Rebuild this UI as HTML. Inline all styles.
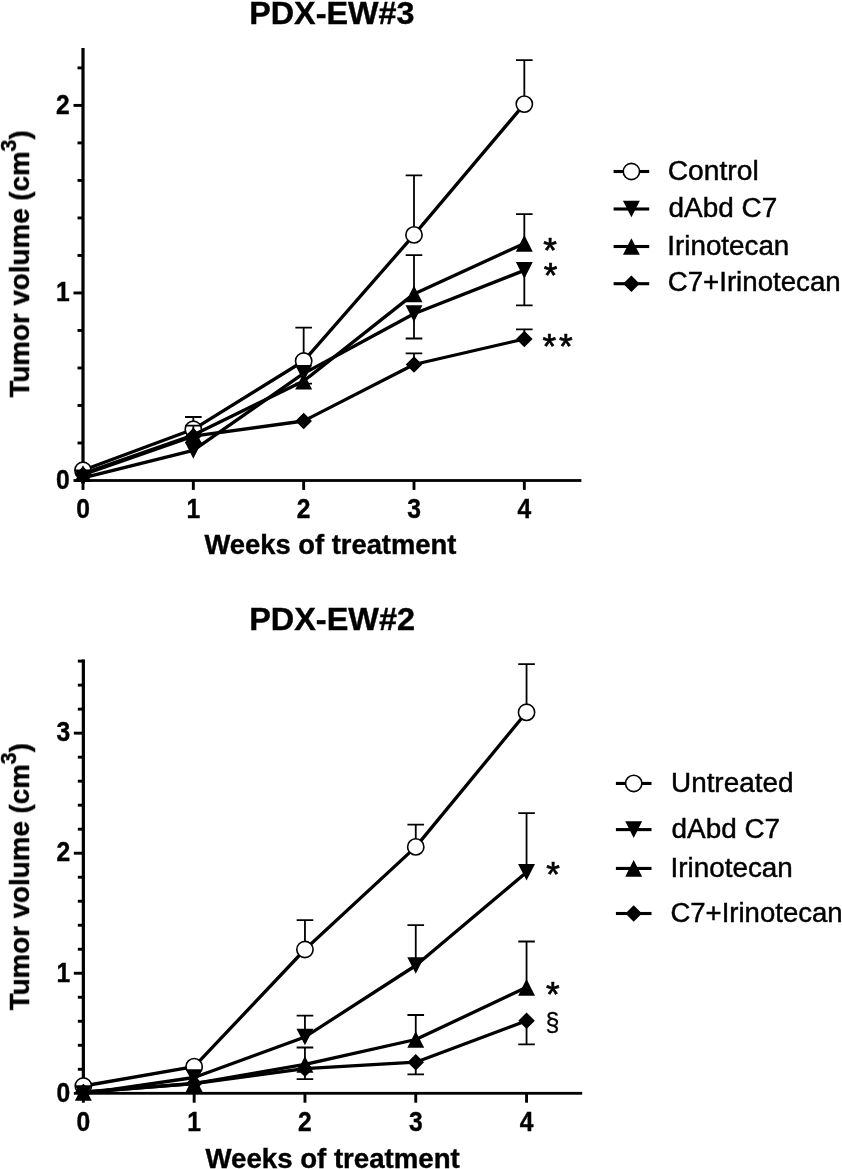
<!DOCTYPE html><html><head><meta charset="utf-8"><title>PDX tumor volume</title><style>html,body{margin:0;padding:0;background:#fff}svg{display:block}text{font-family:"Liberation Sans", Arial, Helvetica, sans-serif;fill:#000}</style></head><body>
<svg width="842" height="1169" viewBox="0 0 842 1169">
<rect width="842" height="1169" fill="#fff"/>
<defs><filter id="soft" x="0" y="0" width="842" height="1169" filterUnits="userSpaceOnUse" color-interpolation-filters="sRGB"><feOffset dx="0" dy="0"/></filter></defs>
<g filter="url(#soft)">
<g>
<rect x="81.40" y="48.00" width="3.2" height="433.90" fill="#000"/>
<rect x="73.50" y="479.10" width="507.90" height="2.8" fill="#000"/>
<text x="62.90" y="488.75" font-size="27.5" font-weight="bold" stroke="#000" stroke-width="0.4" text-anchor="middle" textLength="13.70" lengthAdjust="spacingAndGlyphs">0</text>
<rect x="77.50" y="441.54" width="5.5" height="2.9" fill="#000"/>
<rect x="77.50" y="404.03" width="5.5" height="2.9" fill="#000"/>
<rect x="77.50" y="366.52" width="5.5" height="2.9" fill="#000"/>
<rect x="77.50" y="329.01" width="5.5" height="2.9" fill="#000"/>
<rect x="73.50" y="291.50" width="9.5" height="2.9" fill="#000"/>
<text x="62.90" y="301.20" font-size="27.5" font-weight="bold" stroke="#000" stroke-width="0.4" text-anchor="middle" textLength="13.70" lengthAdjust="spacingAndGlyphs">1</text>
<rect x="77.50" y="253.99" width="5.5" height="2.9" fill="#000"/>
<rect x="77.50" y="216.48" width="5.5" height="2.9" fill="#000"/>
<rect x="77.50" y="178.97" width="5.5" height="2.9" fill="#000"/>
<rect x="77.50" y="141.46" width="5.5" height="2.9" fill="#000"/>
<rect x="73.50" y="103.95" width="9.5" height="2.9" fill="#000"/>
<text x="62.90" y="113.65" font-size="27.5" font-weight="bold" stroke="#000" stroke-width="0.4" text-anchor="middle" textLength="13.70" lengthAdjust="spacingAndGlyphs">2</text>
<rect x="77.50" y="66.44" width="5.5" height="2.9" fill="#000"/>
<rect x="81.55" y="480.50" width="2.9" height="9.4" fill="#000"/>
<text x="83.00" y="517.70" font-size="27.5" font-weight="bold" stroke="#000" stroke-width="0.4" text-anchor="middle" textLength="13.70" lengthAdjust="spacingAndGlyphs">0</text>
<rect x="191.88" y="480.50" width="2.9" height="9.4" fill="#000"/>
<text x="193.33" y="517.70" font-size="27.5" font-weight="bold" stroke="#000" stroke-width="0.4" text-anchor="middle" textLength="13.70" lengthAdjust="spacingAndGlyphs">1</text>
<rect x="302.21" y="480.50" width="2.9" height="9.4" fill="#000"/>
<text x="303.66" y="517.70" font-size="27.5" font-weight="bold" stroke="#000" stroke-width="0.4" text-anchor="middle" textLength="13.70" lengthAdjust="spacingAndGlyphs">2</text>
<rect x="412.54" y="480.50" width="2.9" height="9.4" fill="#000"/>
<text x="413.99" y="517.70" font-size="27.5" font-weight="bold" stroke="#000" stroke-width="0.4" text-anchor="middle" textLength="13.70" lengthAdjust="spacingAndGlyphs">3</text>
<rect x="522.87" y="480.50" width="2.9" height="9.4" fill="#000"/>
<text x="524.32" y="517.70" font-size="27.5" font-weight="bold" stroke="#000" stroke-width="0.4" text-anchor="middle" textLength="13.70" lengthAdjust="spacingAndGlyphs">4</text>
<polyline points="83.00,470.30 193.33,429.30 303.66,361.00 413.99,234.90 524.32,104.10" fill="none" stroke="#000" stroke-width="3.3" stroke-linejoin="round"/>
<path d="M193.33 429.30V417.00M185.03 417.00H201.63M303.66 361.00V327.70M295.36 327.70H311.96M413.99 234.90V175.30M405.69 175.30H422.29M524.32 104.10V60.10M516.02 60.10H532.62" stroke="#000" stroke-width="1.8" fill="none"/>
<ellipse cx="83.00" cy="470.30" rx="8.15" ry="8.15" fill="#fff" stroke="#000" stroke-width="1.6"/>
<ellipse cx="193.33" cy="429.30" rx="8.15" ry="8.15" fill="#fff" stroke="#000" stroke-width="1.6"/>
<ellipse cx="303.66" cy="361.00" rx="8.15" ry="8.15" fill="#fff" stroke="#000" stroke-width="1.6"/>
<ellipse cx="413.99" cy="234.90" rx="8.15" ry="8.15" fill="#fff" stroke="#000" stroke-width="1.6"/>
<ellipse cx="524.32" cy="104.10" rx="8.15" ry="8.15" fill="#fff" stroke="#000" stroke-width="1.6"/>
<polyline points="83.00,477.80 193.33,450.40 303.66,373.45 413.99,313.70 524.32,270.40" fill="none" stroke="#000" stroke-width="3.3" stroke-linejoin="round"/>
<path d="M303.66 373.45V383.60M295.36 383.60H311.96M413.99 313.70V338.50M405.69 338.50H422.29M524.32 270.40V305.30M516.02 305.30H532.62" stroke="#000" stroke-width="1.8" fill="none"/>
<path d="M83.00 486.15L91.45 469.45H74.55Z" fill="#000"/>
<path d="M193.33 458.75L201.78 442.05H184.88Z" fill="#000"/>
<path d="M303.66 381.80L312.11 365.10H295.21Z" fill="#000"/>
<path d="M413.99 322.05L422.44 305.35H405.54Z" fill="#000"/>
<path d="M524.32 278.75L532.77 262.05H515.87Z" fill="#000"/>
<polyline points="83.00,473.60 193.33,435.00 303.66,381.05 413.99,293.90 524.32,243.40" fill="none" stroke="#000" stroke-width="3.3" stroke-linejoin="round"/>
<path d="M193.33 435.00V425.70M185.03 425.70H201.63M413.99 293.90V255.10M405.69 255.10H422.29M524.32 243.40V214.20M516.02 214.20H532.62" stroke="#000" stroke-width="1.8" fill="none"/>
<path d="M83.00 465.25L91.45 481.95H74.55Z" fill="#000"/>
<path d="M193.33 426.65L201.78 443.35H184.88Z" fill="#000"/>
<path d="M303.66 372.70L312.11 389.40H295.21Z" fill="#000"/>
<path d="M413.99 285.55L422.44 302.25H405.54Z" fill="#000"/>
<path d="M524.32 235.05L532.77 251.75H515.87Z" fill="#000"/>
<polyline points="83.00,474.80 193.33,436.20 303.66,421.00 413.99,364.50 524.32,339.00" fill="none" stroke="#000" stroke-width="3.3" stroke-linejoin="round"/>
<path d="M413.99 364.50V353.30M405.69 353.30H422.29M524.32 339.00V329.30M516.02 329.30H532.62" stroke="#000" stroke-width="1.8" fill="none"/>
<path d="M83.00 466.55L91.25 474.80L83.00 483.05L74.75 474.80Z" fill="#000"/>
<path d="M193.33 427.95L201.58 436.20L193.33 444.45L185.08 436.20Z" fill="#000"/>
<path d="M303.66 412.75L311.91 421.00L303.66 429.25L295.41 421.00Z" fill="#000"/>
<path d="M413.99 356.25L422.24 364.50L413.99 372.75L405.74 364.50Z" fill="#000"/>
<path d="M524.32 330.75L532.57 339.00L524.32 347.25L516.07 339.00Z" fill="#000"/>
<text x="204.40" y="554.30" font-size="28" font-weight="bold" stroke="#000" stroke-width="0.4" textLength="252.00" lengthAdjust="spacingAndGlyphs">Weeks of treatment</text>
<g transform="translate(29.00 397.50) rotate(-90)">
<text x="0.00" y="0.00" font-size="28" font-weight="bold" stroke="#000" stroke-width="0.4" textLength="267.20" lengthAdjust="spacingAndGlyphs">Tumor volume (cm<tspan font-size="21.5" dy="-12.6">3</tspan><tspan dy="12.6">)</tspan></text>
</g>
<text x="249.20" y="23.80" font-size="32" font-weight="bold" stroke="#000" stroke-width="0.4" textLength="165.20" lengthAdjust="spacingAndGlyphs">PDX-EW#3</text>
<rect x="613.60" y="169.95" width="35.6" height="3.1" fill="#000"/>
<ellipse cx="631.40" cy="171.50" rx="8.15" ry="8.15" fill="#fff" stroke="#000" stroke-width="1.6"/>
<text x="667.70" y="179.60" font-size="26.8" textLength="91.00" lengthAdjust="spacingAndGlyphs" stroke="#000" stroke-width="0.45">Control</text>
<rect x="613.60" y="207.45" width="35.6" height="3.1" fill="#000"/>
<path d="M631.40 217.35L639.85 200.65H622.95Z" fill="#000"/>
<text x="668.50" y="217.20" font-size="26.8" textLength="108.70" lengthAdjust="spacingAndGlyphs" stroke="#000" stroke-width="0.45">dAbd C7</text>
<rect x="613.60" y="244.95" width="35.6" height="3.1" fill="#000"/>
<path d="M631.40 238.15L639.85 254.85H622.95Z" fill="#000"/>
<text x="667.30" y="254.60" font-size="26.8" textLength="122.00" lengthAdjust="spacingAndGlyphs" stroke="#000" stroke-width="0.45">Irinotecan</text>
<rect x="613.60" y="282.15" width="35.6" height="3.1" fill="#000"/>
<path d="M631.40 275.45L639.65 283.70L631.40 291.95L623.15 283.70Z" fill="#000"/>
<text x="667.70" y="290.70" font-size="26.8" textLength="173.00" lengthAdjust="spacingAndGlyphs" stroke="#000" stroke-width="0.45">C7+Irinotecan</text>
<text x="543.30" y="262.20" font-size="35" stroke="#000" stroke-width="0.7" stroke-linejoin="round">*</text>
<text x="543.80" y="287.40" font-size="35" stroke="#000" stroke-width="0.7" stroke-linejoin="round">*</text>
<text x="542.60" y="357.80" font-size="35" stroke="#000" stroke-width="0.7" stroke-linejoin="round">*</text>
<text x="559.00" y="357.80" font-size="35" stroke="#000" stroke-width="0.7" stroke-linejoin="round">*</text>
</g>
<g>
<rect x="81.75" y="659.40" width="3.2" height="435.30" fill="#000"/>
<rect x="73.85" y="1091.90" width="508.35" height="2.8" fill="#000"/>
<text x="63.25" y="1101.55" font-size="27.5" font-weight="bold" stroke="#000" stroke-width="0.4" text-anchor="middle" textLength="13.70" lengthAdjust="spacingAndGlyphs">0</text>
<rect x="77.85" y="1067.84" width="5.5" height="2.9" fill="#000"/>
<rect x="77.85" y="1043.83" width="5.5" height="2.9" fill="#000"/>
<rect x="77.85" y="1019.82" width="5.5" height="2.9" fill="#000"/>
<rect x="77.85" y="995.81" width="5.5" height="2.9" fill="#000"/>
<rect x="73.85" y="971.80" width="9.5" height="2.9" fill="#000"/>
<text x="63.25" y="981.50" font-size="27.5" font-weight="bold" stroke="#000" stroke-width="0.4" text-anchor="middle" textLength="13.70" lengthAdjust="spacingAndGlyphs">1</text>
<rect x="77.85" y="947.79" width="5.5" height="2.9" fill="#000"/>
<rect x="77.85" y="923.78" width="5.5" height="2.9" fill="#000"/>
<rect x="77.85" y="899.77" width="5.5" height="2.9" fill="#000"/>
<rect x="77.85" y="875.76" width="5.5" height="2.9" fill="#000"/>
<rect x="73.85" y="851.75" width="9.5" height="2.9" fill="#000"/>
<text x="63.25" y="861.45" font-size="27.5" font-weight="bold" stroke="#000" stroke-width="0.4" text-anchor="middle" textLength="13.70" lengthAdjust="spacingAndGlyphs">2</text>
<rect x="77.85" y="827.74" width="5.5" height="2.9" fill="#000"/>
<rect x="77.85" y="803.73" width="5.5" height="2.9" fill="#000"/>
<rect x="77.85" y="779.72" width="5.5" height="2.9" fill="#000"/>
<rect x="77.85" y="755.71" width="5.5" height="2.9" fill="#000"/>
<rect x="73.85" y="731.70" width="9.5" height="2.9" fill="#000"/>
<text x="63.25" y="741.40" font-size="27.5" font-weight="bold" stroke="#000" stroke-width="0.4" text-anchor="middle" textLength="13.70" lengthAdjust="spacingAndGlyphs">3</text>
<rect x="77.85" y="707.69" width="5.5" height="2.9" fill="#000"/>
<rect x="77.85" y="683.68" width="5.5" height="2.9" fill="#000"/>
<rect x="77.85" y="659.67" width="5.5" height="2.9" fill="#000"/>
<rect x="81.90" y="1093.30" width="2.9" height="9.4" fill="#000"/>
<text x="83.35" y="1130.50" font-size="27.5" font-weight="bold" stroke="#000" stroke-width="0.4" text-anchor="middle" textLength="13.70" lengthAdjust="spacingAndGlyphs">0</text>
<rect x="192.70" y="1093.30" width="2.9" height="9.4" fill="#000"/>
<text x="194.15" y="1130.50" font-size="27.5" font-weight="bold" stroke="#000" stroke-width="0.4" text-anchor="middle" textLength="13.70" lengthAdjust="spacingAndGlyphs">1</text>
<rect x="303.50" y="1093.30" width="2.9" height="9.4" fill="#000"/>
<text x="304.95" y="1130.50" font-size="27.5" font-weight="bold" stroke="#000" stroke-width="0.4" text-anchor="middle" textLength="13.70" lengthAdjust="spacingAndGlyphs">2</text>
<rect x="414.30" y="1093.30" width="2.9" height="9.4" fill="#000"/>
<text x="415.75" y="1130.50" font-size="27.5" font-weight="bold" stroke="#000" stroke-width="0.4" text-anchor="middle" textLength="13.70" lengthAdjust="spacingAndGlyphs">3</text>
<rect x="525.10" y="1093.30" width="2.9" height="9.4" fill="#000"/>
<text x="526.55" y="1130.50" font-size="27.5" font-weight="bold" stroke="#000" stroke-width="0.4" text-anchor="middle" textLength="13.70" lengthAdjust="spacingAndGlyphs">4</text>
<polyline points="83.35,1086.00 194.15,1066.70 304.95,949.50 415.75,846.90 526.55,712.30" fill="none" stroke="#000" stroke-width="3.3" stroke-linejoin="round"/>
<path d="M304.95 949.50V920.10M296.65 920.10H313.25M415.75 846.90V824.70M407.45 824.70H424.05M526.55 712.30V664.10M518.25 664.10H534.85" stroke="#000" stroke-width="1.8" fill="none"/>
<ellipse cx="83.35" cy="1086.00" rx="8.15" ry="8.15" fill="#fff" stroke="#000" stroke-width="1.6"/>
<ellipse cx="194.15" cy="1066.70" rx="8.15" ry="8.15" fill="#fff" stroke="#000" stroke-width="1.6"/>
<ellipse cx="304.95" cy="949.50" rx="8.15" ry="8.15" fill="#fff" stroke="#000" stroke-width="1.6"/>
<ellipse cx="415.75" cy="846.90" rx="8.15" ry="8.15" fill="#fff" stroke="#000" stroke-width="1.6"/>
<ellipse cx="526.55" cy="712.30" rx="8.15" ry="8.15" fill="#fff" stroke="#000" stroke-width="1.6"/>
<polyline points="83.35,1093.70 194.15,1077.50 304.95,1037.00 415.75,965.50 526.55,872.25" fill="none" stroke="#000" stroke-width="3.3" stroke-linejoin="round"/>
<path d="M304.95 1037.00V1015.60M296.65 1015.60H313.25M415.75 965.50V925.10M407.45 925.10H424.05M526.55 872.25V813.20M518.25 813.20H534.85" stroke="#000" stroke-width="1.8" fill="none"/>
<path d="M83.35 1102.05L91.80 1085.35H74.90Z" fill="#000"/>
<path d="M194.15 1085.85L202.60 1069.15H185.70Z" fill="#000"/>
<path d="M304.95 1045.35L313.40 1028.65H296.50Z" fill="#000"/>
<path d="M415.75 973.85L424.20 957.15H407.30Z" fill="#000"/>
<path d="M526.55 880.60L535.00 863.90H518.10Z" fill="#000"/>
<polyline points="83.35,1092.35 194.15,1083.60 304.95,1064.35 415.75,1039.50 526.55,987.35" fill="none" stroke="#000" stroke-width="3.3" stroke-linejoin="round"/>
<path d="M304.95 1064.35V1047.50M296.65 1047.50H313.25M415.75 1039.50V1015.00M407.45 1015.00H424.05M526.55 987.35V941.50M518.25 941.50H534.85" stroke="#000" stroke-width="1.8" fill="none"/>
<path d="M83.35 1084.00L91.80 1100.70H74.90Z" fill="#000"/>
<path d="M194.15 1075.25L202.60 1091.95H185.70Z" fill="#000"/>
<path d="M304.95 1056.00L313.40 1072.70H296.50Z" fill="#000"/>
<path d="M415.75 1031.15L424.20 1047.85H407.30Z" fill="#000"/>
<path d="M526.55 979.00L535.00 995.70H518.10Z" fill="#000"/>
<polyline points="83.35,1092.00 194.15,1083.50 304.95,1068.70 415.75,1062.20 526.55,1020.80" fill="none" stroke="#000" stroke-width="3.3" stroke-linejoin="round"/>
<path d="M304.95 1068.70V1079.20M296.65 1079.20H313.25M415.75 1062.20V1074.40M407.45 1074.40H424.05M526.55 1020.80V1044.30M518.25 1044.30H534.85" stroke="#000" stroke-width="1.8" fill="none"/>
<path d="M83.35 1083.75L91.60 1092.00L83.35 1100.25L75.10 1092.00Z" fill="#000"/>
<path d="M194.15 1075.25L202.40 1083.50L194.15 1091.75L185.90 1083.50Z" fill="#000"/>
<path d="M304.95 1060.45L313.20 1068.70L304.95 1076.95L296.70 1068.70Z" fill="#000"/>
<path d="M415.75 1053.95L424.00 1062.20L415.75 1070.45L407.50 1062.20Z" fill="#000"/>
<path d="M526.55 1012.55L534.80 1020.80L526.55 1029.05L518.30 1020.80Z" fill="#000"/>
<text x="205.50" y="1167.80" font-size="28" font-weight="bold" stroke="#000" stroke-width="0.4" textLength="254.20" lengthAdjust="spacingAndGlyphs">Weeks of treatment</text>
<g transform="translate(29.00 1010.30) rotate(-90)">
<text x="0.00" y="0.00" font-size="28" font-weight="bold" stroke="#000" stroke-width="0.4" textLength="267.20" lengthAdjust="spacingAndGlyphs">Tumor volume (cm<tspan font-size="21.5" dy="-12.6">3</tspan><tspan dy="12.6">)</tspan></text>
</g>
<text x="249.20" y="629.80" font-size="32" font-weight="bold" stroke="#000" stroke-width="0.4" textLength="165.80" lengthAdjust="spacingAndGlyphs">PDX-EW#2</text>
<rect x="615.90" y="781.90" width="35.6" height="3.1" fill="#000"/>
<ellipse cx="633.70" cy="783.45" rx="8.15" ry="8.15" fill="#fff" stroke="#000" stroke-width="1.6"/>
<text x="671.00" y="792.20" font-size="26.8" textLength="122.40" lengthAdjust="spacingAndGlyphs" stroke="#000" stroke-width="0.45">Untreated</text>
<rect x="615.90" y="828.05" width="35.6" height="3.1" fill="#000"/>
<path d="M633.70 837.95L642.15 821.25H625.25Z" fill="#000"/>
<text x="671.50" y="838.10" font-size="26.8" textLength="108.60" lengthAdjust="spacingAndGlyphs" stroke="#000" stroke-width="0.45">dAbd C7</text>
<rect x="615.90" y="866.90" width="35.6" height="3.1" fill="#000"/>
<path d="M633.70 860.10L642.15 876.80H625.25Z" fill="#000"/>
<text x="670.50" y="877.20" font-size="26.8" textLength="122.30" lengthAdjust="spacingAndGlyphs" stroke="#000" stroke-width="0.45">Irinotecan</text>
<rect x="615.90" y="911.95" width="35.6" height="3.1" fill="#000"/>
<path d="M633.70 905.25L641.95 913.50L633.70 921.75L625.45 913.50Z" fill="#000"/>
<text x="670.40" y="922.00" font-size="26.8" textLength="172.20" lengthAdjust="spacingAndGlyphs" stroke="#000" stroke-width="0.45">C7+Irinotecan</text>
<text x="546.20" y="886.20" font-size="35" stroke="#000" stroke-width="0.7" stroke-linejoin="round">*</text>
<text x="546.10" y="1006.20" font-size="35" stroke="#000" stroke-width="0.7" stroke-linejoin="round">*</text>
<text x="545.40" y="1031.30" font-size="25" stroke="#000" stroke-width="0.3">§</text>
</g>
</g>
</svg></body></html>
